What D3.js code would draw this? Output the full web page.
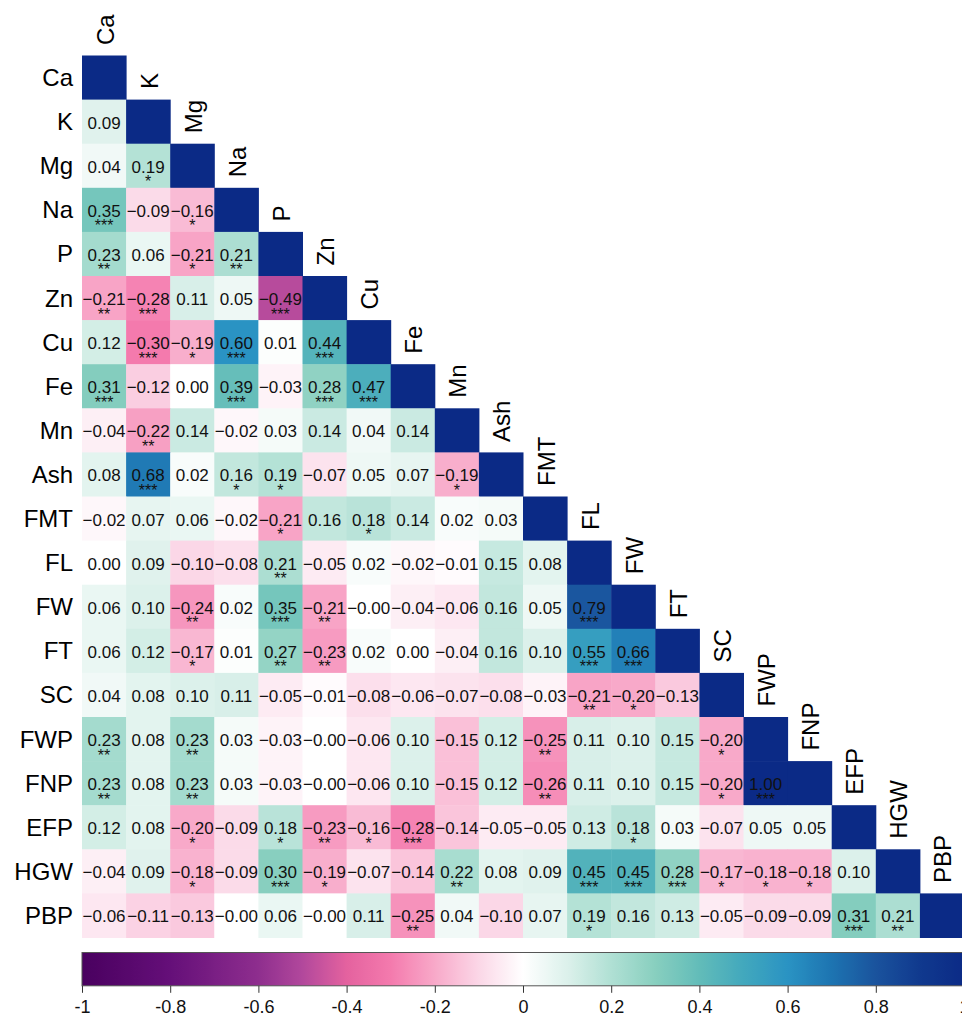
<!DOCTYPE html>
<html>
<head>
<meta charset="utf-8">
<script src="https://cdn.jsdelivr.net/npm/d3@7"></script>
<style>
  body { margin: 0; background: #fff; }
  svg { display: block; }
  text { font-family: "Liberation Sans", Arial, Helvetica, sans-serif; }
</style>
</head>
<body>
<svg id="chart" width="962" height="1017"></svg>
<script>
// Trait names (rows top→bottom, columns left→right)
const variables = ["Ca", "K", "Mg", "Na", "P", "Zn", "Cu", "Fe", "Mn", "Ash",
  "FMT", "FL", "FW", "FT", "SC", "FWP", "FNP", "EFP", "HGW", "PBP"];

// Lower-triangle Pearson coefficients, one row per trait (columns before the diagonal)
const corrRows = [
  [],
  [0.09],
  [0.04, 0.19],
  [0.35, -0.09, -0.16],
  [0.23, 0.06, -0.21, 0.21],
  [-0.21, -0.28, 0.11, 0.05, -0.49],
  [0.12, -0.30, -0.19, 0.60, 0.01, 0.44],
  [0.31, -0.12, 0.00, 0.39, -0.03, 0.28, 0.47],
  [-0.04, -0.22, 0.14, -0.02, 0.03, 0.14, 0.04, 0.14],
  [0.08, 0.68, 0.02, 0.16, 0.19, -0.07, 0.05, 0.07, -0.19],
  [-0.02, 0.07, 0.06, -0.02, -0.21, 0.16, 0.18, 0.14, 0.02, 0.03],
  [0.00, 0.09, -0.10, -0.08, 0.21, -0.05, 0.02, -0.02, -0.01, 0.15, 0.08],
  [0.06, 0.10, -0.24, 0.02, 0.35, -0.21, -0.00, -0.04, -0.06, 0.16, 0.05, 0.79],
  [0.06, 0.12, -0.17, 0.01, 0.27, -0.23, 0.02, 0.00, -0.04, 0.16, 0.10, 0.55, 0.66],
  [0.04, 0.08, 0.10, 0.11, -0.05, -0.01, -0.08, -0.06, -0.07, -0.08, -0.03, -0.21, -0.20, -0.13],
  [0.23, 0.08, 0.23, 0.03, -0.03, -0.00, -0.06, 0.10, -0.15, 0.12, -0.25, 0.11, 0.10, 0.15, -0.20],
  [0.23, 0.08, 0.23, 0.03, -0.03, -0.00, -0.06, 0.10, -0.15, 0.12, -0.26, 0.11, 0.10, 0.15, -0.20, 1.00],
  [0.12, 0.08, -0.20, -0.09, 0.18, -0.23, -0.16, -0.28, -0.14, -0.05, -0.05, 0.13, 0.18, 0.03, -0.07, 0.05, 0.05],
  [-0.04, 0.09, -0.18, -0.09, 0.30, -0.19, -0.07, -0.14, 0.22, 0.08, 0.09, 0.45, 0.45, 0.28, -0.17, -0.18, -0.18, 0.10],
  [-0.06, -0.11, -0.13, -0.00, 0.06, -0.00, 0.11, -0.25, 0.04, -0.10, 0.07, 0.19, 0.16, 0.13, -0.05, -0.09, -0.09, 0.31, 0.21]
];

// Significance level per coefficient: 0 = n.s., 1 = *, 2 = **, 3 = ***
const signifRows = [
  [],
  [0],
  [0, 1],
  [3, 0, 1],
  [2, 0, 1, 2],
  [2, 3, 0, 0, 3],
  [0, 3, 1, 3, 0, 3],
  [3, 0, 0, 3, 0, 3, 3],
  [0, 2, 0, 0, 0, 0, 0, 0],
  [0, 3, 0, 1, 1, 0, 0, 0, 1],
  [0, 0, 0, 0, 1, 0, 1, 0, 0, 0],
  [0, 0, 0, 0, 2, 0, 0, 0, 0, 0, 0],
  [0, 0, 2, 0, 3, 2, 0, 0, 0, 0, 0, 3],
  [0, 0, 1, 0, 2, 2, 0, 0, 0, 0, 0, 3, 3],
  [0, 0, 0, 0, 0, 0, 0, 0, 0, 0, 0, 2, 1, 0],
  [2, 0, 2, 0, 0, 0, 0, 0, 0, 0, 2, 0, 0, 0, 1],
  [2, 0, 2, 0, 0, 0, 0, 0, 0, 0, 2, 0, 0, 0, 1, 3],
  [0, 0, 1, 0, 1, 2, 1, 3, 0, 0, 0, 0, 1, 0, 0, 0, 0],
  [0, 0, 1, 0, 3, 1, 0, 0, 2, 0, 0, 3, 3, 3, 1, 1, 1, 0],
  [0, 0, 0, 0, 0, 0, 0, 2, 0, 0, 0, 1, 0, 0, 0, 0, 0, 3, 2]
];

// Colour-bar tick values
const legendTicks = [-1, -0.8, -0.6, -0.4, -0.2, 0, 0.2, 0.4, 0.6, 0.8, 1];

// Diverging palette: purple → pink → white → teal → blue → navy
const paletteDomain = [-1, -0.8, -0.6, -0.5, -0.4, -0.3, -0.2, -0.1, 0,
  0.1, 0.2, 0.3, 0.4, 0.5, 0.6, 0.7, 0.8, 0.9, 1];
const paletteColors = ["#49005f", "#650f79", "#8e2e8e", "#b2489c", "#e4629f",
  "#f47aad", "#f8a9c9", "#fbd7e7", "#ffffff", "#dcf1eb", "#b0e0d4", "#88cfbf",
  "#62bcb9", "#42a8bd", "#2a93c3", "#1d74b1", "#1a539d", "#10398e", "#0b2a86"];

const color = d3.scaleLinear().domain(paletteDomain).range(paletteColors)
  .interpolate(d3.interpolateRgb).clamp(true);

const svg = d3.select("#chart");

const x = d3.scaleBand().domain(variables).range([82, 964]).padding(0);
const y = d3.scaleBand().domain(variables).range([55.5, 937.5]).padding(0);
const bw = x.bandwidth(), bh = y.bandwidth();

// Build cell list: lower triangle plus the unit diagonal
const cells = [];
variables.forEach((rowVar, i) => {
  corrRows[i].forEach((v, j) => {
    cells.push({ row: rowVar, col: variables[j], value: v, stars: signifRows[i][j], diag: false });
  });
  cells.push({ row: rowVar, col: rowVar, value: 1, stars: 0, diag: true });
});

const fmt = v => ((v < 0 || Object.is(v, -0)) ? "\u2212" : "") + Math.abs(v).toFixed(2);

const cellG = svg.append("g").attr("class", "cells");
cellG.selectAll("rect")
  .data(cells)
  .join("rect")
  .attr("x", d => x(d.col))
  .attr("y", d => y(d.row))
  .attr("width", bw + 0.5)
  .attr("height", bh + 0.5)
  .attr("fill", d => color(d.value));

const offDiag = cells.filter(d => !d.diag);

cellG.selectAll("text.value")
  .data(offDiag)
  .join("text")
  .attr("class", "value")
  .attr("x", d => x(d.col) + bw / 2)
  .attr("y", d => y(d.row) + bh / 2 + 7)
  .attr("text-anchor", "middle")
  .attr("font-size", 17)
  .attr("fill", "#111")
  .text(d => fmt(d.value));

cellG.selectAll("text.stars")
  .data(offDiag.filter(d => d.stars > 0))
  .join("text")
  .attr("class", "stars")
  .attr("x", d => x(d.col) + bw / 2)
  .attr("y", d => y(d.row) + bh / 2 + 21.5)
  .attr("text-anchor", "middle")
  .attr("font-size", 16)
  .attr("fill", "#111")
  .text(d => "*".repeat(d.stars));

// Row labels on the left
svg.append("g").selectAll("text")
  .data(variables)
  .join("text")
  .attr("x", 73)
  .attr("y", d => y(d) + bh / 2 + 8.5)
  .attr("text-anchor", "end")
  .attr("font-size", 24)
  .attr("fill", "#000")
  .text(d => d);

// Column labels, rotated, sitting above each diagonal cell
svg.append("g").selectAll("text")
  .data(variables)
  .join("text")
  .attr("transform", d => `translate(${x(d) + bw / 2 + 9.5},${y(d) - 10.5}) rotate(-90)`)
  .attr("text-anchor", "start")
  .attr("font-size", 24)
  .attr("fill", "#000")
  .text(d => d);

// Colour bar
const lx = d3.scaleLinear().domain([-1, 1]).range([82, 964]);
const barTop = 952.5, barH = 33.3;

const grad = svg.append("defs").append("linearGradient")
  .attr("id", "corrGrad")
  .attr("gradientUnits", "userSpaceOnUse")
  .attr("x1", lx(-1)).attr("x2", lx(1)).attr("y1", 0).attr("y2", 0);
grad.selectAll("stop")
  .data(d3.range(0, 201).map(k => -1 + k * 0.01))
  .join("stop")
  .attr("offset", d => (d + 1) / 2)
  .attr("stop-color", d => color(d));

svg.append("rect")
  .attr("x", lx(-1)).attr("y", barTop)
  .attr("width", lx(1) - lx(-1)).attr("height", barH)
  .attr("fill", "url(#corrGrad)")
  .attr("stroke", "#555")
  .attr("stroke-width", 1);

const axis = d3.axisBottom(lx)
  .tickValues(legendTicks)
  .tickSize(7)
  .tickSizeOuter(0)
  .tickFormat(d => String(+d.toFixed(1)));

const axG = svg.append("g")
  .attr("transform", `translate(0,${barTop + barH})`)
  .call(axis);
axG.select(".domain").remove();
axG.selectAll(".tick line").attr("stroke", "#333");
axG.selectAll(".tick text")
  .attr("font-size", 18)
  .attr("font-family", "\"Liberation Sans\", Arial, sans-serif")
  .attr("fill", "#111")
  .attr("y", 14)
  .attr("dy", "0.71em");
</script>
</body>
</html>
